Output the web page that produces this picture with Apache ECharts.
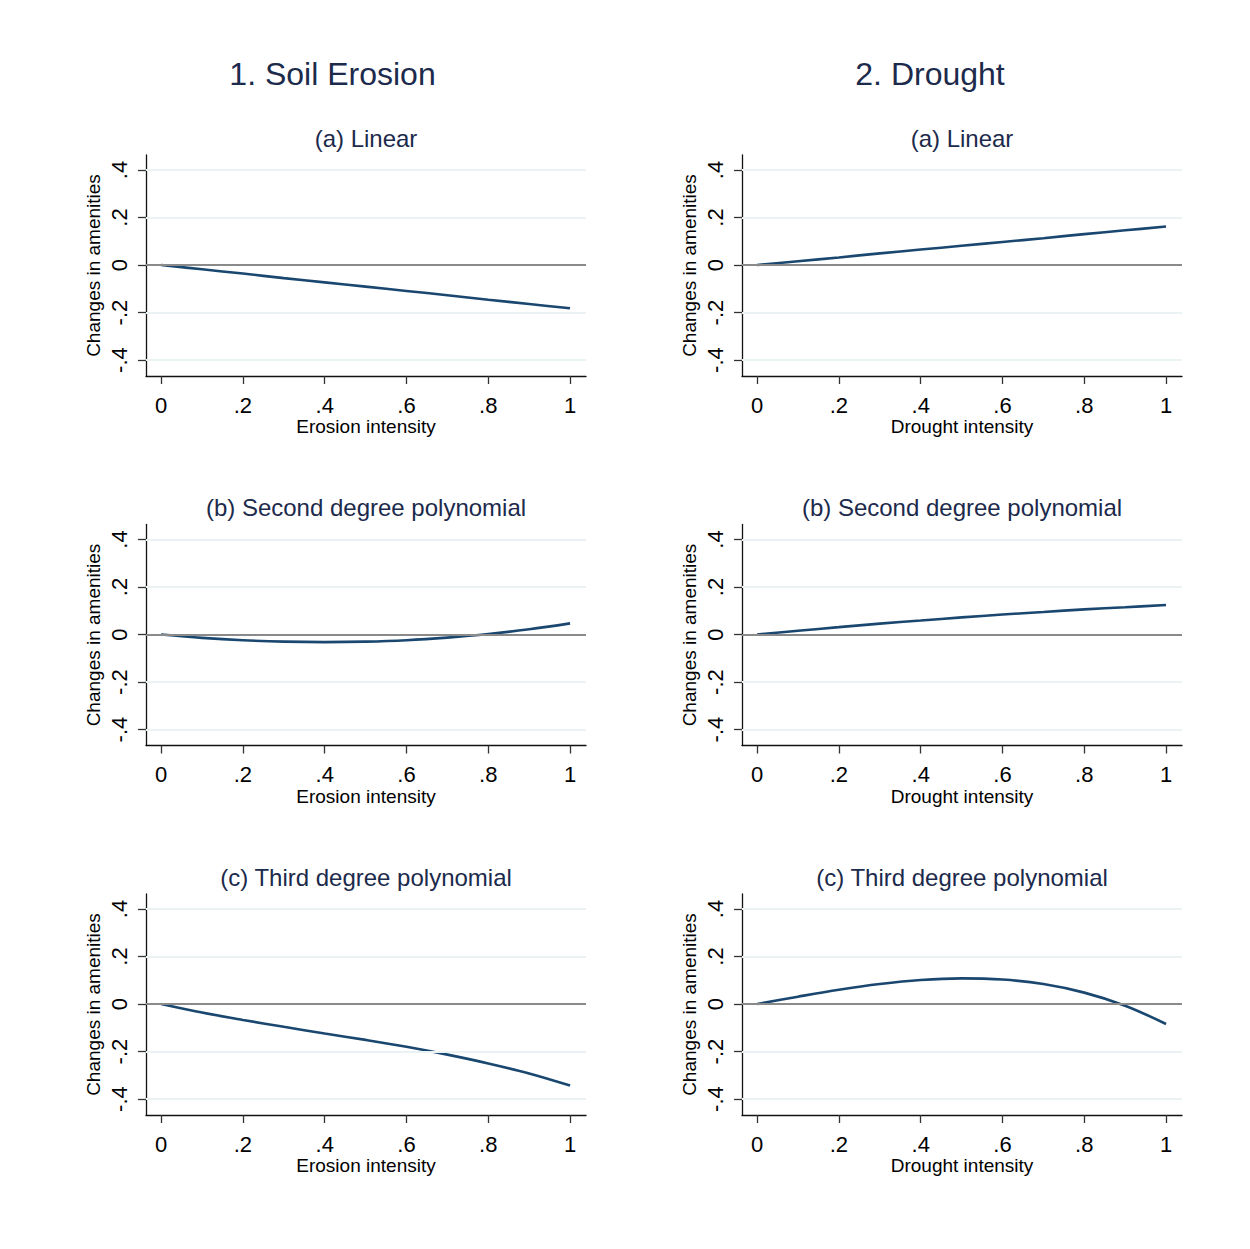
<!DOCTYPE html>
<html><head><meta charset="utf-8">
<script src="https://cdn.jsdelivr.net/npm/echarts@6/dist/echarts.min.js"></script>
<style>html,body{margin:0;padding:0;background:#fff}#c{width:1250px;height:1249px}</style>
</head><body><div id="c"></div>
<script>
// ---- data ----
const xValues = [0, 0.1, 0.2, 0.3, 0.4, 0.5, 0.6, 0.7, 0.8, 0.9, 1];
const erosionLinear    = [0, -0.018, -0.036, -0.055, -0.073, -0.091, -0.109, -0.127, -0.146, -0.164, -0.182];
const erosionQuadratic = [0, -0.014, -0.024, -0.030, -0.032, -0.030, -0.024, -0.013, 0.002, 0.022, 0.047];
const erosionCubic     = [0, -0.036, -0.067, -0.096, -0.124, -0.151, -0.180, -0.213, -0.250, -0.292, -0.343];
const droughtLinear    = [0, 0.016, 0.032, 0.049, 0.065, 0.081, 0.097, 0.113, 0.130, 0.146, 0.162];
const droughtQuadratic = [0, 0.016, 0.031, 0.046, 0.059, 0.072, 0.084, 0.095, 0.106, 0.115, 0.124];
const droughtCubic     = [0, 0.031, 0.060, 0.084, 0.101, 0.108, 0.103, 0.084, 0.048, -0.007, -0.084];

const columnTitles = ['1. Soil Erosion', '2. Drought'];
const panelTitles = ['(a) Linear', '(b) Second degree polynomial', '(c) Third degree polynomial'];
const xAxisTitles = ['Erosion intensity', 'Drought intensity'];
const yAxisTitle = 'Changes in amenities';
const xTicks = [0, 0.2, 0.4, 0.6, 0.8, 1];
const yTicks = [-0.4, -0.2, 0, 0.2, 0.4];

// ---- layout / style ----
const FONT = '"Liberation Sans", Arial, sans-serif';
const TITLE_COLOR = '#1c2a4c';
const LINE_COLOR = '#1a476f';
const gridLeft = [146, 742];
const gridTop0 = 155, rowStep = 369.5, gridW = 440, gridH = 221;
const titleCenterX = [332.5, 930];
const subCenterX = [366, 962];
const xMin = -0.037, xMax = 1.039, yMin = -0.467, yMax = 0.463;

const columnsData = [
  [erosionLinear, erosionQuadratic, erosionCubic],
  [droughtLinear, droughtQuadratic, droughtCubic]
];

function fmt(v) {
  const n = Math.round(v * 10) / 10;
  if (n === 0) return '0';
  if (n === 1) return '1';
  return String(n).replace(/^(-?)0\./, '$1.');
}

const grids = [], xAxes = [], yAxes = [], series = [], graphics = [];
for (let c = 0; c < 2; c++) {
  graphics.push({
    type: 'text', x: titleCenterX[c], y: 74, silent: true,
    style: { text: columnTitles[c], fill: TITLE_COLOR, font: '32px ' + FONT, textAlign: 'center', textVerticalAlign: 'middle' }
  });
  for (let r = 0; r < 3; r++) {
    const idx = grids.length;
    const top = gridTop0 + rowStep * r;
    grids.push({ left: gridLeft[c], top: top, width: gridW, height: gridH, containLabel: false });
    graphics.push({
      type: 'text', x: subCenterX[c], y: 138 + rowStep * r, silent: true,
      style: { text: panelTitles[r], fill: TITLE_COLOR, font: '24px ' + FONT, textAlign: 'center', textVerticalAlign: 'middle' }
    });
    xAxes.push({
      type: 'value', gridIndex: idx, min: xMin, max: xMax,
      name: xAxisTitles[c], nameLocation: 'middle', nameGap: 41,
      nameTextStyle: { fontSize: 19, color: '#000', fontFamily: FONT },
      axisLine: { show: true, onZero: false, lineStyle: { color: '#111', width: 1.3 } },
      axisTick: { show: true, length: 8, customValues: xTicks, lineStyle: { color: '#333', width: 1.3 } },
      axisLabel: { customValues: xTicks, margin: 18, fontSize: 22, color: '#000', fontFamily: FONT, formatter: fmt },
      splitLine: { show: false }
    });
    yAxes.push({
      type: 'value', gridIndex: idx, min: yMin, max: yMax,
      name: yAxisTitle, nameLocation: 'middle', nameGap: 43,
      nameTextStyle: { fontSize: 19, color: '#000', fontFamily: FONT },
      axisLine: { show: true, onZero: false, lineStyle: { color: '#111', width: 1.3 } },
      axisTick: { show: true, length: 8, customValues: yTicks, lineStyle: { color: '#333', width: 1.3 } },
      axisLabel: { customValues: yTicks, rotate: 90, margin: 16, fontSize: 22, color: '#000', fontFamily: FONT, formatter: fmt },
      splitLine: { show: false }
    });
    // grid lines + zero reference line
    series.push({
      type: 'line', xAxisIndex: idx, yAxisIndex: idx, data: [], z: 1, silent: true,
      markLine: {
        silent: true, symbol: ['none', 'none'], label: { show: false }, animation: false,
        data: yTicks.map(v => ({
          yAxis: v,
          lineStyle: v === 0 ? { color: '#8a8a8a', width: 2, type: 'solid' } : { color: '#eaf2f3', width: 1.8, type: 'solid' }
        }))
      }
    });
    const vals = columnsData[c][r];
    series.push({
      type: 'line', xAxisIndex: idx, yAxisIndex: idx, z: 3,
      data: xValues.map((x, i) => [x, vals[i]]),
      smooth: 0.35, showSymbol: false, symbol: 'none',
      lineStyle: { color: LINE_COLOR, width: 2.6 }
    });
  }
}

const chart = echarts.init(document.getElementById('c'), null, { renderer: 'svg', width: 1250, height: 1249 });
chart.setOption({
  backgroundColor: '#ffffff',
  animation: false,
  grid: grids, xAxis: xAxes, yAxis: yAxes, series: series,
  graphic: graphics
});
</script>
</body></html>
